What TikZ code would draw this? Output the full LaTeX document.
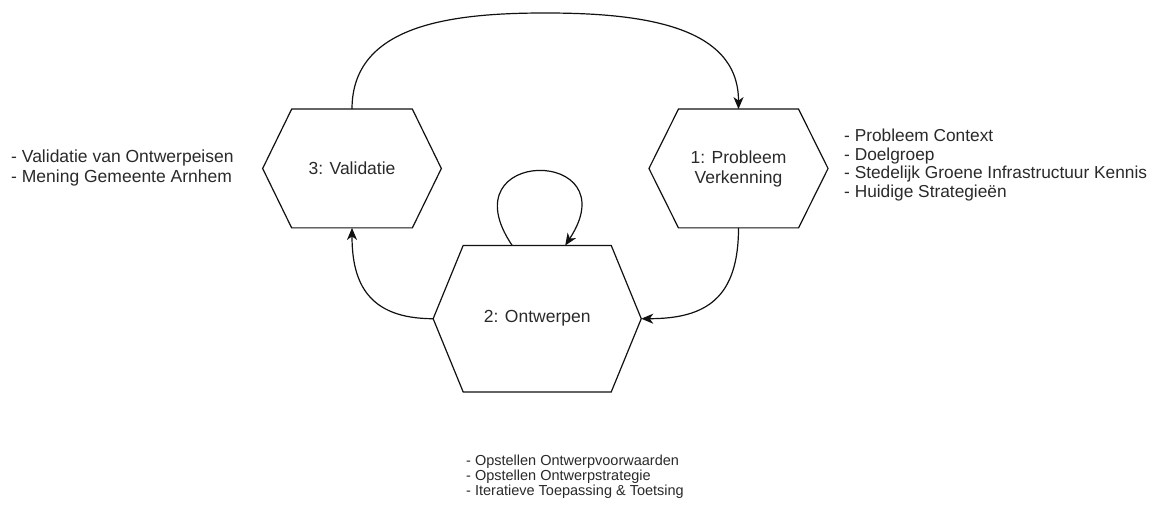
\documentclass[tikz,border=0pt]{standalone}
\usepackage{fontspec}
\setmainfont{Liberation Sans}
\usetikzlibrary{arrows.meta,calc}
\definecolor{linec}{HTML}{111111}
\definecolor{txt}{HTML}{2a2a2a}
\newcommand\hexdraw[2]{\draw[hexline] (#1.west) -- ([xshift=#2pt]#1.north west) -- ([xshift=-#2pt]#1.north east) -- (#1.east) -- ([xshift=-#2pt]#1.south east) -- ([xshift=#2pt]#1.south west) -- cycle;}
\begin{document}
\begin{tikzpicture}[x=1pt,y=-1pt,
  hexlabel/.style={inner sep=0pt, align=center, text=txt, font=\fontsize{17.5}{20}\selectfont},
  hexline/.style={draw=linec, line width=1.2pt, line join=miter},
  conn/.style={draw=linec, line width=1.2pt, -{Stealth[length=12pt,width=10pt,inset=3.5pt]}},
  listtext/.style={inner sep=0pt, align=left, anchor=west, text=txt}]
\useasboundingbox[fill=white] (0,0) rectangle (1158,510);
% hexagon placeholders
\node[hexlabel, minimum width=178.3pt, minimum height=118.4pt] (val) at (352,168.5) {3: Validatie};
\node[hexlabel, minimum width=178.7pt, minimum height=118.4pt] (prob) at (738.5,168.5) {1: Probleem\\Verkenning};
\node[hexlabel, minimum width=207.7pt, minimum height=146pt] (ont) at (537.2,318.7) {2: Ontwerpen};
\hexdraw{val}{29}
\hexdraw{prob}{29.5}
\hexdraw{ont}{30}
% connectors
\coordinate (topmid) at (545.2,13);
\draw[conn] (val.north) .. controls +(0,-84) and +(-95,0) .. (topmid) .. controls +(95,0) and +(0,-84) .. (prob.north);
\draw[conn] ($(ont.north)+(-25,0)$) .. controls +(-67,-99) and +(65,-99) .. ($(ont.north)+(28,0)$);
\draw[conn] (ont.west) .. controls +(-65,0) and +(0,55) .. (val.south);
\draw[conn] (prob.south) .. controls +(0,70) and +(65,0) .. (ont.east);
% lists
\node[listtext, font=\fontsize{17.5}{20}\selectfont] (lval) at (11,168) {- Validatie van Ontwerpeisen\\- Mening Gemeente Arnhem};
\node[listtext, font=\fontsize{17.3}{18.7}\selectfont] (lprob) at (844,165) {- Probleem Context\\- Doelgroep\\- Stedelijk Groene Infrastructuur Kennis\\- Huidige Strategieën};
\node[listtext, font=\fontsize{14.5}{15}\selectfont] (lont) at (466,477) {- Opstellen Ontwerpvoorwaarden\\- Opstellen Ontwerpstrategie\\- Iteratieve Toepassing \& Toetsing};
\end{tikzpicture}
\end{document}
